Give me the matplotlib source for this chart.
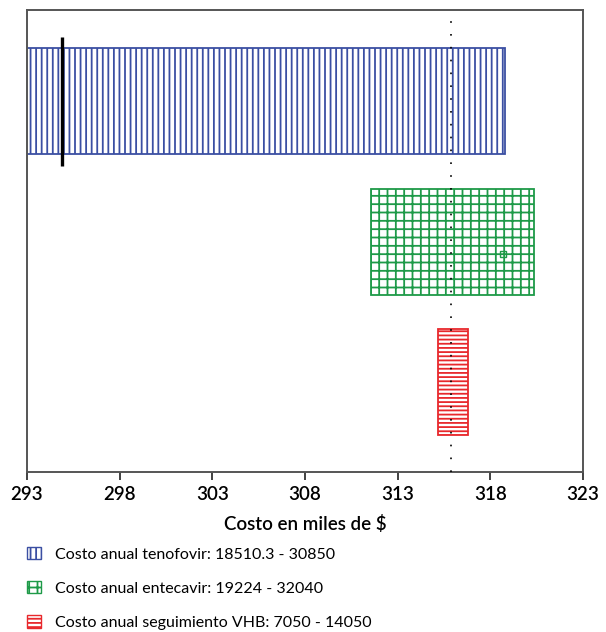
import matplotlib.pyplot as plt
from matplotlib.patches import Patch

# tornado chart: cost range (thousands of $) for each varied parameter
labels = ['Costo anual tenofovir: 18510.3 - 30850',
          'Costo anual entecavir: 19224 - 32040',
          'Costo anual seguimiento VHB: 7050 - 14050']
low = [292.0, 311.56, 315.16]
high = [318.77, 320.34, 316.78]
base = 315.9
colors = ['#3b4fa3', '#1e9a48', '#e8282c']
hatches = ['|||', '++', '----']
ticks = [293, 298, 303, 308, 313, 318, 323]

plt.rcParams['font.family'] = ['Lato', 'DejaVu Sans']
plt.rcParams['hatch.linewidth'] = 1.3

fig = plt.figure(figsize=(6.06, 6.32), dpi=100)
ax = fig.add_axes([0.0446, 0.2532, 0.9175, 0.731])

ypos = range(len(labels))
for i in ypos:
    ax.barh(i, high[i] - low[i], left=low[i], height=0.755,
            facecolor='white', edgecolor=colors[i], hatch=hatches[i],
            linewidth=1.3, label=labels[i], zorder=2)

ax.axvline(base, color='black', linestyle=(0, (1, 6.7)), linewidth=1.2, zorder=3)
ax.vlines(294.87, -0.46, 0.46, color='black', linewidth=2.4, zorder=4)
ax.plot(318.7, 1.09, marker='s', markersize=4, markerfacecolor='none',
        markeredgecolor=colors[1], zorder=4)

ax.set_xlim(293, 323)
ax.set_ylim(2.64, -0.65)
ax.set_xticks(ticks)
ax.set_xticklabels([str(t) for t in ticks], fontsize=13.5, fontweight='semibold')
ax.set_yticks([])
ax.tick_params(axis='x', direction='out', length=6, width=1.3, color='#333333', pad=4)
ax.set_xlabel('Costo en miles de $', fontsize=13.5, fontweight='semibold', labelpad=9)
for s in ax.spines.values():
    s.set_color('#555555')
    s.set_linewidth(1.4)

handles = [Patch(facecolor='white', edgecolor=c, hatch=h, linewidth=1)
           for c, h in zip(colors, hatches)]
fig.legend(handles, labels, loc='upper left', bbox_to_anchor=(0.045, 0.135),
           frameon=False, fontsize=11.5, handlelength=0.85, handleheight=0.85,
           handletextpad=0.9, labelspacing=1.2, borderaxespad=0, borderpad=0)

plt.savefig('out.png')
